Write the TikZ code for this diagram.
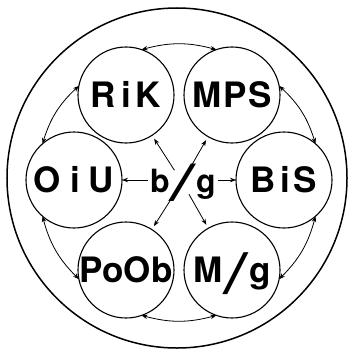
\documentclass[tikz,border=0pt]{standalone}
\usepackage{fontspec}
\setmainfont{TeX Gyre Heros}
\usepackage{tkz-graph}
\usetikzlibrary{arrows.meta}
\newcommand{\vtxfont}{\bfseries\fontsize{35}{35}\selectfont}
\newcommand{\hubfont}{\bfseries\fontsize{32}{32}\selectfont}
\newcommand{\bigslash}[3]{\raisebox{#1}{\scalebox{#2}[1]{\mdseries\fontsize{#3}{#3}\selectfont /}}}

\begin{document}
\begin{tikzpicture}[x=1pt, y=1pt]
  \useasboundingbox (-177,-173) rectangle (175,178);
  \GraphInit[vstyle=Normal]
  \tikzset{VertexStyle/.style={circle, draw, line width=1.1pt, minimum size=96pt,
      inner sep=0pt, text height=24pt, text depth=0pt, font=\vtxfont}}
  \tikzset{EdgeStyle/.style={<->, line width=0.8pt, bend left=15}}
  \tikzset{>={Stealth[length=6pt, width=4.5pt]}}
  \tikzset{spoke/.style={->, line width=0.8pt}}

\draw[line width=1.5pt] (0,0) circle (170pt);
   \Vertex[x=-51 ,y=83, L={R\kern5pt i\kern5pt K}]{RiK}
   \Vertex[x=55 ,y=83, L={M\kern2pt P\kern2pt S}]{MPS}
   \Vertex[x=107 ,y=-2, L={B\kern4pt i\kern4pt S}]{BiS}
   \Vertex[x=55 ,y=-92, L={M\kern1pt\bigslash{-11pt}{1.6}{56}\kern1pt g}]{Mg}
   \Vertex[x=-51 ,y=-92, L={PoOb}]{PoOb}
   \Vertex[x=-103 ,y=-2, L={O\kern9pt i\kern9pt U}]{OiU}

   \Edge(RiK.71)(MPS.109)
   \Edge(MPS.11)(BiS.49)
   \Edge(BiS.311)(Mg.349)
   \Edge(Mg.251)(PoOb.289)
   \Edge(PoOb.191)(OiU.229)
   \Edge(OiU.131)(RiK.169)

\node[anchor=base, inner sep=2pt, text height=24pt, text depth=0pt, font=\hubfont] (bg) at (6,-14)
   {b\bigslash{-8pt}{1.9}{50}g};
\coordinate (hub) at (5,-4);
   \draw[spoke] (bg.west) -- (OiU.east);
   \draw[spoke] (bg.east) -- (BiS.west);
   \draw[spoke, shorten <=14pt, shorten >=4pt] (hub) -- (RiK);
   \draw[spoke, shorten <=19pt, shorten >=4pt] (hub) -- (MPS);
   \draw[spoke, shorten <=22pt, shorten >=4pt] (hub) -- (PoOb);
   \draw[spoke, shorten <=14pt, shorten >=4pt] (hub) -- (Mg);
\end{tikzpicture}
\end{document}
